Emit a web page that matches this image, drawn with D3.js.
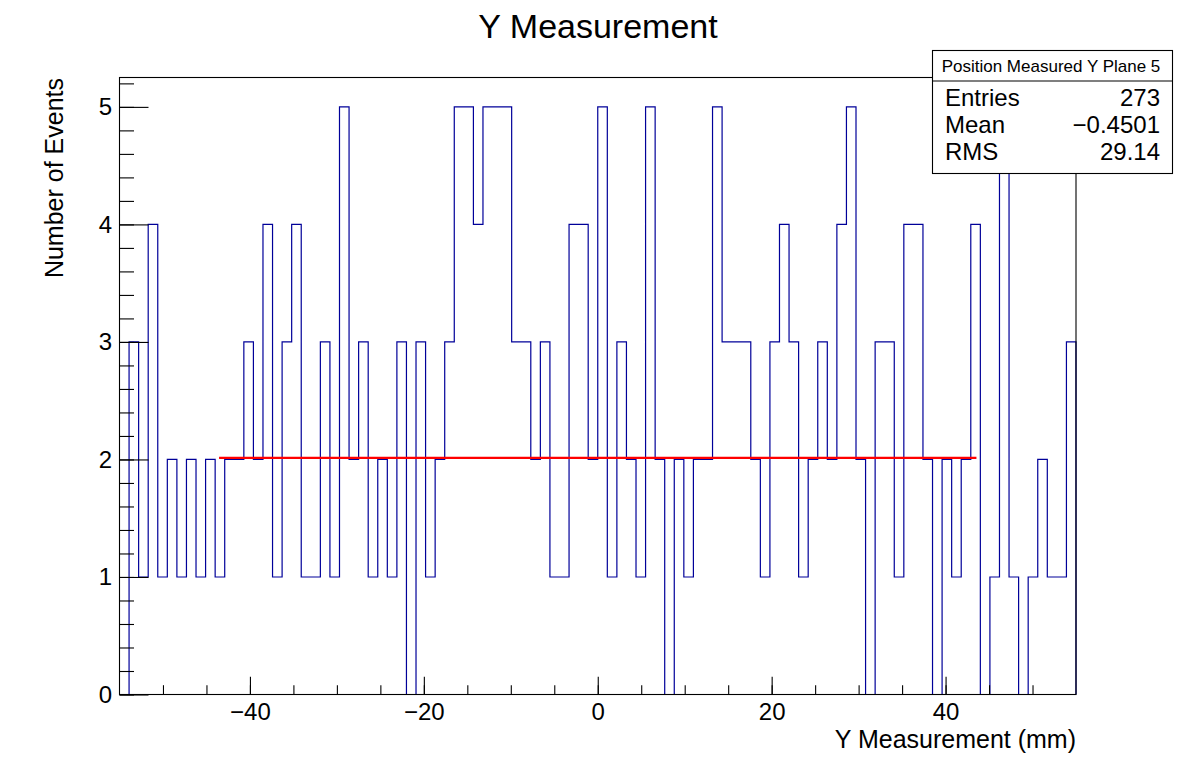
<!DOCTYPE html>
<html>
<head>
<meta charset="utf-8">
<script src="https://cdn.jsdelivr.net/npm/d3@7"></script>
<style>
  html, body { margin: 0; padding: 0; background: #fff; }
  svg { display: block; }
  text { font-family: "Liberation Sans", Arial, Helvetica, sans-serif; fill: #000; }
</style>
</head>
<body>
<svg id="chart" width="1196" height="772"></svg>
<script>
// ---- Data ----
const histLow = -55;          // axis range of the histogram (mm)
const histHigh = 55;
const nBins = 100;            // bin width 1.1 mm
const counts = [
  0,3,1,4,1,2,1,2,1,2,
  1,2,2,3,2,4,1,3,4,1,
  1,3,1,5,2,3,1,2,1,3,
  0,3,1,2,3,5,5,4,5,5,
  5,3,3,2,3,1,1,4,4,2,
  5,1,3,2,1,5,2,0,2,1,
  2,2,5,3,3,3,2,1,3,4,
  3,1,2,3,2,4,5,2,0,3,
  3,1,4,4,2,0,2,1,2,4,
  0,1,5,1,0,1,2,1,1,3
];
const fitRange = [-43.55, 43.55];
const fitValue = 2.013;
const xMajorTicks = [-40, -20, 0, 20, 40];
const xMinorTicks = [-50,-45,-40,-35,-30,-25,-20,-15,-10,-5,0,5,10,15,20,25,30,35,40,45,50];
const yMajorTicks = [0, 1, 2, 3, 4, 5];
const yMinorTicks = [0,0.2,0.4,0.6,0.8,1,1.2,1.4,1.6,1.8,2,2.2,2.4,2.6,2.8,3,3.2,3.4,3.6,3.8,4,4.2,4.4,4.6,4.8,5,5.2];
const yMax = 5.25;
const titleText = "Y Measurement";
const xTitle = "Y Measurement (mm)";
const yTitle = "Number of Events";
const statsTitle = "Position Measured Y Plane 5";
const statsLabels = ["Entries", "Mean", "RMS"];
const statsValues = ["273", "\u22120.4501", "29.14"];

// ---- Layout ----
const svg = d3.select("#chart");
const frame = { left: 119.5, right: 1076, top: 77.5, bottom: 694.5 };
const FONT = '"Liberation Sans", Arial, Helvetica, sans-serif';

svg.append("rect").attr("x", 0).attr("y", 0).attr("width", 1196).attr("height", 772).attr("fill", "#fff");

const x = d3.scaleLinear().domain([histLow, histHigh]).range([frame.left, frame.right]);
const y = d3.scaleLinear().domain([0, yMax]).range([frame.bottom, frame.top]);

// Bin edges from the axis definition
const binW = (histHigh - histLow) / nBins;
const pts = [[histLow, 0]];
counts.forEach((c, i) => pts.push([histLow + i * binW, c]));
pts.push([histHigh, counts[counts.length - 1]]);
pts.push([histHigh, 0]);

// Histogram outline
const line = d3.line().x(d => x(d[0])).y(d => y(d[1])).curve(d3.curveStepAfter);
svg.append("path")
  .attr("d", line(pts))
  .attr("fill", "none")
  .attr("stroke", "#000099")
  .attr("stroke-width", 1.2);

// Fit line
svg.append("line")
  .attr("x1", x(fitRange[0])).attr("x2", x(fitRange[1]))
  .attr("y1", y(fitValue)).attr("y2", y(fitValue))
  .attr("stroke", "#ff0000").attr("stroke-width", 2.2);

// Axes
const fmt = d3.format("d");
const xMinorAxis = d3.axisBottom(x).tickValues(xMinorTicks).tickFormat("").tickSizeInner(-9.3).tickSizeOuter(0);
const xMajorAxis = d3.axisBottom(x).tickValues(xMajorTicks).tickFormat(fmt).tickSizeInner(-17.7).tickSizeOuter(0).tickPadding(8.5);
const yMinorAxis = d3.axisLeft(y).tickValues(yMinorTicks).tickFormat("").tickSizeInner(-14.5).tickSizeOuter(0);
const yMajorAxis = d3.axisLeft(y).tickValues(yMajorTicks).tickFormat(fmt).tickSizeInner(-29).tickSizeOuter(0).tickPadding(7.5);

function styleAxis(g) {
  g.select(".domain").remove();
  g.selectAll("line").attr("stroke", "#000").attr("stroke-width", 1.1);
  g.selectAll("text").attr("font-size", 24).attr("font-family", FONT).attr("fill", "#000");
}
svg.append("g").attr("transform", `translate(0,${frame.bottom})`).call(xMinorAxis).call(styleAxis);
svg.append("g").attr("transform", `translate(0,${frame.bottom})`).call(xMajorAxis).call(styleAxis);
svg.append("g").attr("transform", `translate(${frame.left},0)`).call(yMinorAxis).call(styleAxis);
svg.append("g").attr("transform", `translate(${frame.left},0)`).call(yMajorAxis).call(styleAxis);

// Frame
svg.append("rect")
  .attr("x", frame.left).attr("y", frame.top)
  .attr("width", frame.right - frame.left).attr("height", frame.bottom - frame.top)
  .attr("fill", "none").attr("stroke", "#000").attr("stroke-width", 1.1);

// Titles
svg.append("text").attr("x", 598).attr("y", 38).attr("text-anchor", "middle")
  .attr("font-size", 34).text(titleText);
svg.append("text").attr("x", frame.right).attr("y", 747.5).attr("text-anchor", "end")
  .attr("font-size", 25).text(xTitle);
svg.append("text").attr("transform", `translate(62.5,${frame.top + 0.5}) rotate(-90)`)
  .attr("text-anchor", "end").attr("font-size", 25).text(yTitle);

// Stats box
const sb = { x: 932.5, y: 50.5, w: 240, h: 123, div: 81 };
svg.append("rect").attr("x", sb.x).attr("y", sb.y).attr("width", sb.w).attr("height", sb.h)
  .attr("fill", "#fff").attr("stroke", "#000").attr("stroke-width", 1.1);
svg.append("line").attr("x1", sb.x).attr("x2", sb.x + sb.w).attr("y1", sb.div).attr("y2", sb.div)
  .attr("stroke", "#000").attr("stroke-width", 1.1);
svg.append("text").attr("x", sb.x + sb.w / 2 - 1.5).attr("y", 71.5).attr("text-anchor", "middle")
  .attr("font-size", 17).text(statsTitle);
const baselines = [106, 133, 160];
statsLabels.forEach((lab, i) => {
  svg.append("text").attr("x", 945).attr("y", baselines[i]).attr("font-size", 24).text(lab);
  svg.append("text").attr("x", 1160).attr("y", baselines[i]).attr("text-anchor", "end")
    .attr("font-size", 24).text(statsValues[i]);
});
</script>
</body>
</html>
